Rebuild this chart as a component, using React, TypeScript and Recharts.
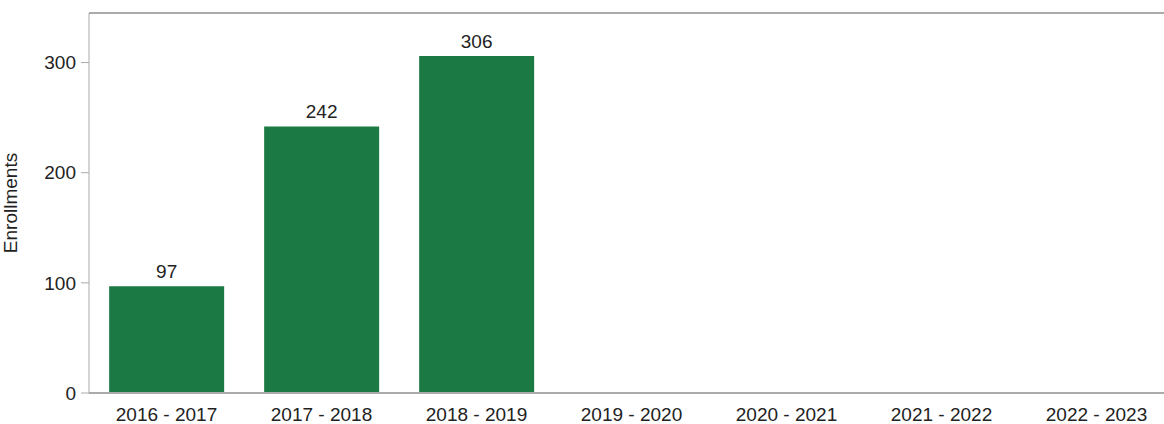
import React from "react";
import { BarChart, Bar, XAxis, YAxis, LabelList, ReferenceLine } from "recharts";

const categories = ["2016 - 2017", "2017 - 2018", "2018 - 2019", "2019 - 2020", "2020 - 2021", "2021 - 2022", "2022 - 2023"];
const enrollments: (number | null)[] = [97, 242, 306, null, null, null, null];
const yTicks = [0, 100, 200, 300];

const data = categories.map((c, i) => ({ year: c, value: enrollments[i] }));

const FONT = "'Liberation Sans', Arial, sans-serif";
const TEXT = "#222222";

export default function App() {
  return (
    <div style={{ position: "absolute", left: 0, top: 0, background: "#fff", overflow: "hidden", width: 1164, height: 424 }}>
      <BarChart
        width={1174}
        height={424}
        data={data}
        margin={{ top: 13, right: 0, bottom: 0, left: 0 }}
        barCategoryGap="13%"
      >
        <XAxis
          dataKey="year"
          axisLine={{ stroke: "#aaa", strokeWidth: 2 }}
          tickLine={false}
          tickMargin={9}
          height={31}
          interval={0}
          tick={{ fill: TEXT, fontSize: 19, fontFamily: FONT }}
        />
        <YAxis
          domain={[0, 345]}
          ticks={yTicks}
          width={89}
          axisLine={{ stroke: "#aaa" }}
          tickLine={{ stroke: "#aaa" }}
          tickSize={8}
          tickMargin={5}
          tick={{ fill: TEXT, fontSize: 19, fontFamily: FONT }}
          label={{
            value: "Enrollments",
            angle: -90,
            position: "insideLeft",
            offset: 10,
            style: { textAnchor: "middle", fill: TEXT, fontSize: 19, fontFamily: FONT },
          }}
        />
        <ReferenceLine y={345} stroke="#aaa" strokeWidth={2} />
        <Bar dataKey="value" fill="#1b7a44" isAnimationActive={false}>
          <LabelList
            dataKey="value"
            position="top"
            offset={8}
            style={{ fill: TEXT, fontSize: 19, fontFamily: FONT }}
          />
        </Bar>
      </BarChart>
    </div>
  );
}
